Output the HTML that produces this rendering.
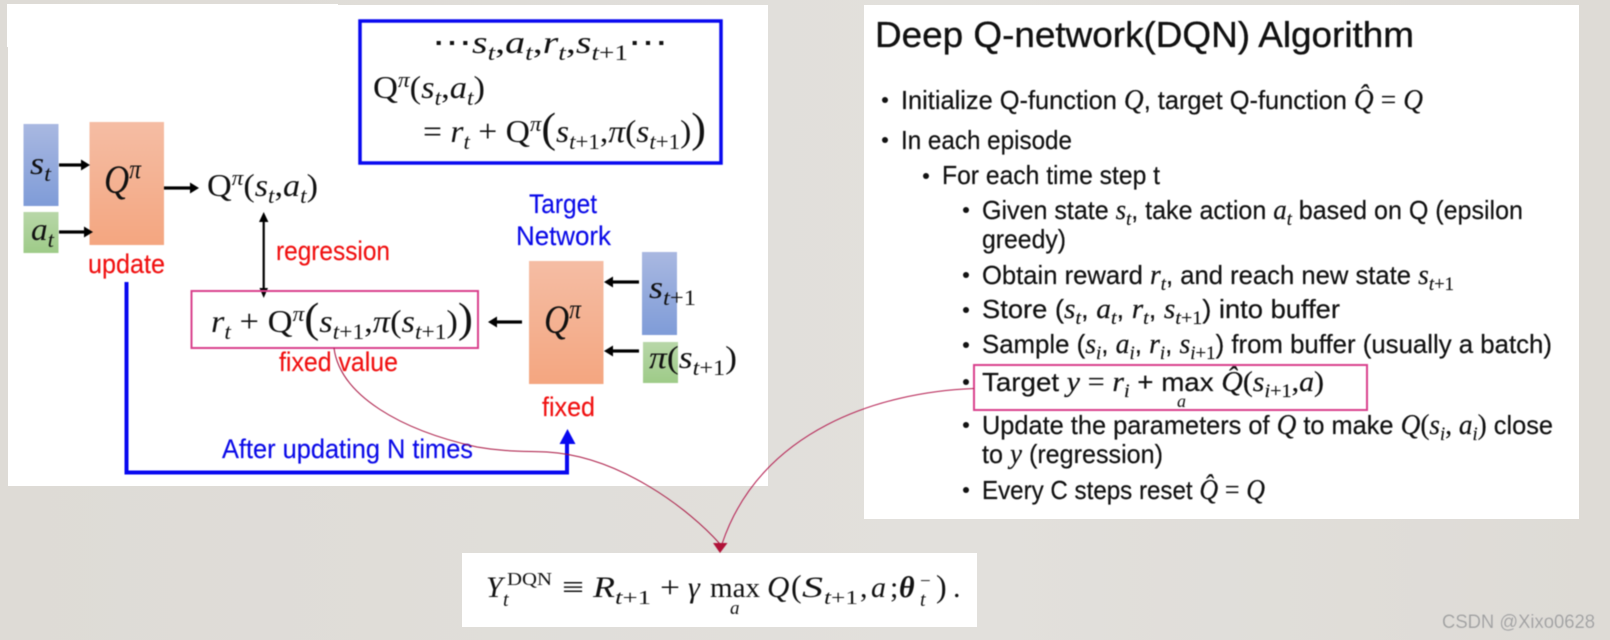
<!DOCTYPE html>
<html>
<head>
<meta charset="utf-8">
<style>
html,body{margin:0;padding:0;width:1610px;height:640px;overflow:hidden;background:#dfdcd7}
svg{display:block}
text{font-family:"Liberation Sans",sans-serif;fill:#111;white-space:pre}
.i{font-style:italic;font-family:"Liberation Serif",serif}
.u{font-style:normal;font-family:"Liberation Serif",serif}
.s{font-size:68%}
.r{fill:#f01010;font-size:27px;stroke:#f01010;stroke-width:.15}
.bl{fill:#0a0ae8;font-size:27px;stroke:#0a0ae8;stroke-width:.15}
.t{font-size:26px;stroke:#111;stroke-width:.2}
.t .i,.t .u{font-size:28px}
.t .s,.t .i.s,.t .s .i,.t .s .u{font-size:19px}
.c{font-family:"Liberation Serif",serif;font-size:32px}
.big{font-size:42px}
.soft{filter:blur(.4px)}
</style>
</head>
<body>
<svg width="1610" height="640" viewBox="0 0 1610 640" xmlns="http://www.w3.org/2000/svg">
<defs>
<linearGradient id="bg" x1="0" y1="0" x2="1" y2="0"><stop offset="0" stop-color="#dedbd6"/><stop offset=".6" stop-color="#e2e0dc"/><stop offset="1" stop-color="#dedbd6"/></linearGradient>
<linearGradient id="o" x1="0" y1="0" x2="0" y2="1"><stop offset="0" stop-color="#f5bda4"/><stop offset="1" stop-color="#f4a680"/></linearGradient>
<linearGradient id="b" x1="0" y1="0" x2="0" y2="1"><stop offset="0" stop-color="#a9b8e1"/><stop offset="1" stop-color="#7f9cd8"/></linearGradient>
<linearGradient id="g" x1="0" y1="0" x2="0" y2="1"><stop offset="0" stop-color="#b8d7a8"/><stop offset="1" stop-color="#9ecb88"/></linearGradient>
</defs>
<rect width="1610" height="640" fill="url(#bg)"/>
<rect x="8" y="5" width="760" height="481" fill="#fff"/>
<rect x="7" y="4" width="331" height="43" fill="#fff"/>
<rect x="864" y="5" width="715" height="514" fill="#fff"/>
<rect x="462" y="553" width="515" height="74" fill="#fff"/>

<g class="soft">
<!-- left: boxes -->
<rect x="23.5" y="124" width="35" height="82" fill="url(#b)"/>
<rect x="23.5" y="212" width="35" height="41" fill="url(#g)"/>
<rect x="89.5" y="122" width="74.5" height="123" fill="url(#o)"/>
<rect x="529" y="261" width="74.5" height="123" fill="url(#o)"/>
<rect x="642" y="252" width="35" height="83" fill="url(#b)"/>
<rect x="643" y="342" width="35" height="41" fill="url(#g)"/>

<!-- black arrows -->
<g fill="#000" stroke="none">
<rect x="59" y="163.4" width="24" height="3.2"/><path d="M81 159.5 L90 165 L81 170.5Z"/>
<rect x="59" y="230.4" width="26" height="3.2"/><path d="M84 226.5 L93 232 L84 237.5Z"/>
<rect x="164" y="186.4" width="28" height="3.2"/><path d="M190 182.5 L199 188 L190 193.5Z"/>
<rect x="493" y="320.4" width="29" height="3.2"/><path d="M497 316.5 L488 322 L497 327.5Z"/>
<rect x="611" y="280.4" width="28" height="3.2"/><path d="M613 276.5 L604 282 L613 287.5Z"/>
<rect x="611" y="349.4" width="28" height="3.2"/><path d="M613 345.5 L604 351 L613 356.5Z"/>
<rect x="262.6" y="218" width="2.2" height="74"/><path d="M259 222 L263.7 212 L268.4 222Z"/><path d="M259.5 288 L263.7 298 L268 288Z"/>
</g>

<!-- blue frame and route -->
<rect x="360" y="21" width="361" height="142" fill="none" stroke="#0808f0" stroke-width="3.5"/>
<path d="M126.5 282 V472.5 H567 V440" fill="none" stroke="#0808f0" stroke-width="4"/>
<path d="M559.5 444 L567.5 429 L575.5 444Z" fill="#0808f0"/>

<!-- pink boxes -->
<rect x="191.5" y="291" width="286.5" height="57" fill="none" stroke="#d9418d" stroke-width="2"/>
<rect x="974" y="365" width="393" height="45" fill="none" stroke="#d9418d" stroke-width="2"/>

<!-- frame math -->
<text class="c" x="432" y="53" textLength="236" lengthAdjust="spacingAndGlyphs">⋯<tspan class="i">s</tspan><tspan class="i s" dy="7">t</tspan><tspan dy="-7">,</tspan><tspan class="i">a</tspan><tspan class="i s" dy="7">t</tspan><tspan dy="-7">,</tspan><tspan class="i">r</tspan><tspan class="i s" dy="7">t</tspan><tspan dy="-7">,</tspan><tspan class="i">s</tspan><tspan class="s" dy="7"><tspan class="i">t</tspan>+1</tspan><tspan dy="-7">⋯</tspan></text>
<text class="c" x="373" y="98" textLength="112" lengthAdjust="spacingAndGlyphs">Q<tspan class="i s" dy="-11">π</tspan><tspan dy="11">(</tspan><tspan class="i">s</tspan><tspan class="i s" dy="7">t</tspan><tspan dy="-7">,</tspan><tspan class="i">a</tspan><tspan class="i s" dy="7">t</tspan><tspan dy="-7">)</tspan></text>
<text class="c" x="423" y="142" textLength="283" lengthAdjust="spacingAndGlyphs">= <tspan class="i">r</tspan><tspan class="i s" dy="7">t</tspan><tspan dy="-7"> + Q</tspan><tspan class="i s" dy="-11">π</tspan><tspan dy="11" class="big">(</tspan><tspan class="i">s</tspan><tspan class="s" dy="7"><tspan class="i">t</tspan>+1</tspan><tspan dy="-7">,</tspan><tspan class="i">π</tspan>(<tspan class="i">s</tspan><tspan class="s" dy="7"><tspan class="i">t</tspan>+1</tspan><tspan dy="-7">)</tspan><tspan class="big">)</tspan></text>

<!-- left diagram labels -->
<text class="c" x="30" y="174" textLength="21" lengthAdjust="spacingAndGlyphs"><tspan class="i">s</tspan><tspan class="i s" dy="7">t</tspan></text>
<text class="c" x="31" y="240" textLength="23" lengthAdjust="spacingAndGlyphs"><tspan class="i">a</tspan><tspan class="i s" dy="7">t</tspan></text>
<text class="i" x="104" y="193" font-size="40" textLength="37" lengthAdjust="spacingAndGlyphs">Q<tspan class="s" dy="-15">π</tspan></text>
<text class="i" x="544" y="333" font-size="40" textLength="37" lengthAdjust="spacingAndGlyphs">Q<tspan class="s" dy="-15">π</tspan></text>
<text class="c" x="207" y="196" textLength="111" lengthAdjust="spacingAndGlyphs">Q<tspan class="i s" dy="-11">π</tspan><tspan dy="11">(</tspan><tspan class="i">s</tspan><tspan class="i s" dy="7">t</tspan><tspan dy="-7">,</tspan><tspan class="i">a</tspan><tspan class="i s" dy="7">t</tspan><tspan dy="-7">)</tspan></text>
<text class="c" x="211" y="332" textLength="262" lengthAdjust="spacingAndGlyphs"><tspan class="i">r</tspan><tspan class="i s" dy="7">t</tspan><tspan dy="-7"> + Q</tspan><tspan class="i s" dy="-11">π</tspan><tspan dy="11" class="big">(</tspan><tspan class="i">s</tspan><tspan class="s" dy="7"><tspan class="i">t</tspan>+1</tspan><tspan dy="-7">,</tspan><tspan class="i">π</tspan>(<tspan class="i">s</tspan><tspan class="s" dy="7"><tspan class="i">t</tspan>+1</tspan><tspan dy="-7">)</tspan><tspan class="big">)</tspan></text>
<text class="c" x="649" y="298" textLength="47" lengthAdjust="spacingAndGlyphs"><tspan class="i">s</tspan><tspan class="s" dy="7"><tspan class="i">t</tspan>+1</tspan></text>
<text class="c" x="649" y="368" textLength="88" lengthAdjust="spacingAndGlyphs"><tspan class="i">π</tspan>(<tspan class="i">s</tspan><tspan class="s" dy="7"><tspan class="i">t</tspan>+1</tspan><tspan dy="-7">)</tspan></text>

<text class="r" x="88" y="273" textLength="77" lengthAdjust="spacingAndGlyphs">update</text>
<text class="r" x="276" y="260" textLength="114" lengthAdjust="spacingAndGlyphs">regression</text>
<text class="r" x="279" y="371" textLength="119" lengthAdjust="spacingAndGlyphs">fixed value</text>
<text class="r" x="542" y="416" textLength="53" lengthAdjust="spacingAndGlyphs">fixed</text>
<text class="bl" x="529" y="213" textLength="68" lengthAdjust="spacingAndGlyphs">Target</text>
<text class="bl" x="516" y="245" textLength="95" lengthAdjust="spacingAndGlyphs">Network</text>
<text class="bl" x="222" y="458" textLength="251" lengthAdjust="spacingAndGlyphs">After updating N times</text>

<!-- right panel -->
<text x="875" y="47" font-size="36" textLength="539" lengthAdjust="spacingAndGlyphs" style="stroke:#111;stroke-width:.35">Deep Q-network(DQN) Algorithm</text>
<g fill="#111">
<circle cx="885" cy="100" r="3"/><circle cx="885" cy="140" r="3"/><circle cx="926" cy="176" r="3"/>
<circle cx="966" cy="210" r="3"/><circle cx="966" cy="275" r="3"/><circle cx="966" cy="310" r="3"/><circle cx="966" cy="345" r="3"/><circle cx="966" cy="382" r="3"/><circle cx="966" cy="425" r="3"/><circle cx="966" cy="490" r="3"/>
</g>
<text class="t" x="901" y="109" textLength="522" lengthAdjust="spacingAndGlyphs">Initialize Q-function <tspan class="i">Q</tspan>, target Q-function <tspan class="i">Q&#770;</tspan> <tspan class="u">=</tspan> <tspan class="i">Q</tspan></text>
<text class="t" x="901" y="149" textLength="171" lengthAdjust="spacingAndGlyphs">In each episode</text>
<text class="t" x="942" y="184" textLength="218" lengthAdjust="spacingAndGlyphs">For each time step t</text>
<text class="t" x="982" y="219" textLength="541" lengthAdjust="spacingAndGlyphs">Given state <tspan class="i">s</tspan><tspan class="i s" dy="6">t</tspan><tspan dy="-6">, take action </tspan><tspan class="i">a</tspan><tspan class="i s" dy="6">t</tspan><tspan dy="-6"> based on Q (epsilon</tspan></text>
<text class="t" x="982" y="248" textLength="84" lengthAdjust="spacingAndGlyphs">greedy)</text>
<text class="t" x="982" y="284" textLength="472" lengthAdjust="spacingAndGlyphs">Obtain reward <tspan class="i">r</tspan><tspan class="i s" dy="6">t</tspan><tspan dy="-6">, and reach new state </tspan><tspan class="i">s</tspan><tspan class="s" dy="6"><tspan class="i">t</tspan><tspan class="u">+1</tspan></tspan></text>
<text class="t" x="982" y="318" textLength="358" lengthAdjust="spacingAndGlyphs">Store (<tspan class="i">s</tspan><tspan class="i s" dy="6">t</tspan><tspan dy="-6">, </tspan><tspan class="i">a</tspan><tspan class="i s" dy="6">t</tspan><tspan dy="-6">, </tspan><tspan class="i">r</tspan><tspan class="i s" dy="6">t</tspan><tspan dy="-6">, </tspan><tspan class="i">s</tspan><tspan class="s" dy="6"><tspan class="i">t</tspan><tspan class="u">+1</tspan></tspan><tspan dy="-6">) into buffer</tspan></text>
<text class="t" x="982" y="353" textLength="570" lengthAdjust="spacingAndGlyphs">Sample (<tspan class="i">s</tspan><tspan class="i s" dy="6">i</tspan><tspan dy="-6">, </tspan><tspan class="i">a</tspan><tspan class="i s" dy="6">i</tspan><tspan dy="-6">, </tspan><tspan class="i">r</tspan><tspan class="i s" dy="6">i</tspan><tspan dy="-6">, </tspan><tspan class="i">s</tspan><tspan class="s" dy="6"><tspan class="i">i</tspan><tspan class="u">+1</tspan></tspan><tspan dy="-6">) from buffer (usually a batch)</tspan></text>
<text class="t" x="982" y="391" textLength="342" lengthAdjust="spacingAndGlyphs">Target <tspan class="i">y</tspan> <tspan class="u">=</tspan> <tspan class="i">r</tspan><tspan class="i s" dy="6">i</tspan><tspan dy="-6"> + max </tspan><tspan class="i">Q&#770;</tspan><tspan class="u">(</tspan><tspan class="i">s</tspan><tspan class="s" dy="6"><tspan class="i">i</tspan><tspan class="u">+1</tspan></tspan><tspan dy="-6" class="u">,</tspan><tspan class="i">a</tspan><tspan class="u">)</tspan></text>
<text class="i" x="1177" y="407" font-size="18">a</text>
<text class="t" x="982" y="434" textLength="571" lengthAdjust="spacingAndGlyphs">Update the parameters of <tspan class="i">Q</tspan> to make <tspan class="i">Q</tspan><tspan class="u">(</tspan><tspan class="i">s</tspan><tspan class="i s" dy="6">i</tspan><tspan dy="-6" class="u">, </tspan><tspan class="i">a</tspan><tspan class="i s" dy="6">i</tspan><tspan dy="-6" class="u">)</tspan> close</text>
<text class="t" x="982" y="463" textLength="181" lengthAdjust="spacingAndGlyphs">to <tspan class="i">y</tspan> (regression)</text>
<text class="t" x="982" y="499" textLength="283" lengthAdjust="spacingAndGlyphs">Every C steps reset <tspan class="i">Q&#770;</tspan> <tspan class="u">=</tspan> <tspan class="i">Q</tspan></text>

<!-- bottom formula -->
<g>
<text class="i" x="486" y="597" font-size="30">Y</text>
<text class="u" x="507" y="585" font-size="18" textLength="45" lengthAdjust="spacingAndGlyphs">DQN</text>
<text class="i" x="503" y="606" font-size="20">t</text>
<text class="u" x="562" y="597" font-size="30" textLength="22" lengthAdjust="spacingAndGlyphs">≡</text>
<text class="i" x="593" y="597" font-size="30" textLength="22" lengthAdjust="spacingAndGlyphs">R</text>
<text class="u" x="615" y="604" textLength="36" lengthAdjust="spacingAndGlyphs" style="font-size:20px"><tspan class="i">t</tspan>+1</text>
<text class="u" x="660" y="597" font-size="30" textLength="20" lengthAdjust="spacingAndGlyphs">+</text>
<text class="i" x="688" y="597" font-size="30">γ</text>
<text class="u" x="710" y="597" font-size="29" textLength="50" lengthAdjust="spacingAndGlyphs">max</text>
<text class="i" x="730" y="614" font-size="19">a</text>
<text class="i" x="767" y="597" font-size="31">Q</text>
<text class="u" x="791" y="597" font-size="32">(</text>
<text class="i" x="802" y="597" font-size="30" textLength="21" lengthAdjust="spacingAndGlyphs">S</text>
<text class="u" x="824" y="604" textLength="34" lengthAdjust="spacingAndGlyphs" style="font-size:20px"><tspan class="i">t</tspan>+1</text>
<text class="u" x="860" y="597" font-size="30">,</text>
<text class="i" x="871" y="597" font-size="30">a</text>
<text class="u" x="890" y="597" font-size="30">;</text>
<text x="899" y="597" font-size="30" font-weight="bold" font-style="italic" style="font-family:'Liberation Serif',serif">θ</text>
<text class="u" x="920" y="587" font-size="19">−</text>
<text class="i" x="920" y="606" font-size="20">t</text>
<text class="u" x="936" y="597" font-size="32">)</text>
<text class="u" x="953" y="597" font-size="30">.</text>
</g>

<!-- watermark -->
<text x="1442" y="628" font-size="19" textLength="153" lengthAdjust="spacingAndGlyphs" style="fill:#a0a0a0;stroke:#fff;stroke-width:.3;paint-order:stroke">CSDN @Xixo0628</text>

<!-- crimson curves -->
<path d="M334 348 C340 395 400 430 477 447 C505 452 525 451 547 452 C620 456 690 510 720 544" fill="none" stroke="#a8123f" stroke-width="1"/>
<path d="M974 388.5 C880 392 760 430 722 544" fill="none" stroke="#b3194d" stroke-width="1"/>
<path d="M713 543 L727.5 543 L720 553Z" fill="#b01238"/>
</g>
</svg>
</body>
</html>
